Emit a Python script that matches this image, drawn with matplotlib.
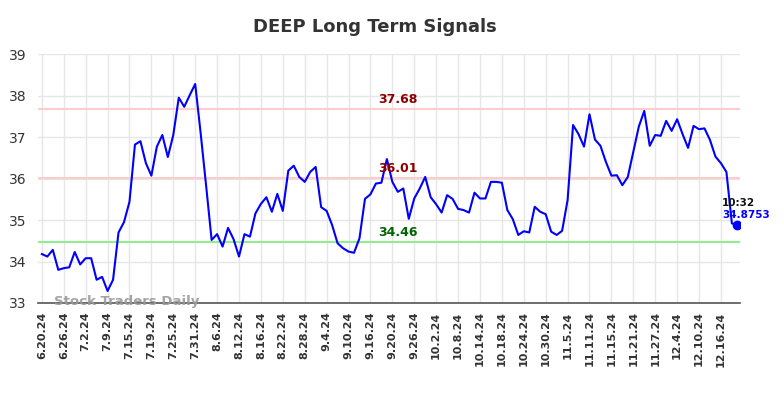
import matplotlib.pyplot as plt
import numpy as np

# daily closes, one per trading day from 6.20.24
prices = [
    34.18, 34.12, 34.28, 33.80, 33.84, 33.86, 34.23, 33.93, 34.08, 34.08,
    33.56, 33.63, 33.29, 33.56, 34.70, 34.95, 35.44, 36.82, 36.90, 36.37,
    36.07, 36.77, 37.05, 36.52, 37.05, 37.95, 37.73, 38.01, 38.28, 37.09,
    35.82, 34.52, 34.66, 34.36, 34.81, 34.54, 34.12, 34.66, 34.60, 35.16,
    35.39, 35.55, 35.20, 35.63, 35.22, 36.19, 36.31, 36.04, 35.92, 36.16,
    36.28, 35.31, 35.22, 34.88, 34.44, 34.32, 34.24, 34.21, 34.56, 35.51,
    35.62, 35.88, 35.90, 36.47, 35.92, 35.68, 35.76, 35.03, 35.52, 35.76,
    36.04, 35.55, 35.38, 35.18, 35.60, 35.51, 35.27, 35.24, 35.18, 35.66,
    35.52, 35.52, 35.92, 35.92, 35.90, 35.24, 35.02, 34.64, 34.73, 34.70,
    35.32, 35.20, 35.14, 34.72, 34.64, 34.74, 35.48, 37.29, 37.07, 36.77,
    37.55, 36.94, 36.79, 36.40, 36.07, 36.08, 35.84, 36.04, 36.65, 37.25,
    37.63, 36.79, 37.05, 37.03, 37.39, 37.15, 37.43, 37.07, 36.74, 37.27,
    37.19, 37.21, 36.93, 36.53, 36.37, 36.16, 34.92, 34.8753,
]
tick_labels = [
    "6.20.24", "6.26.24", "7.2.24", "7.9.24", "7.15.24", "7.19.24", "7.25.24",
    "7.31.24", "8.6.24", "8.12.24", "8.16.24", "8.22.24", "8.28.24", "9.4.24",
    "9.10.24", "9.16.24", "9.20.24", "9.26.24", "10.2.24", "10.8.24",
    "10.14.24", "10.18.24", "10.24.24", "10.30.24", "11.5.24", "11.11.24",
    "11.15.24", "11.21.24", "11.27.24", "12.4.24", "12.10.24", "12.16.24",
]
upper = 37.68
middle = 36.01
lower = 34.46
last_time = "10:32"

x = np.arange(len(prices))

fig = plt.figure(figsize=(7.84, 3.98), dpi=100)
ax = fig.add_axes([0.0485, 0.2387, 0.8955, 0.6253])

ax.plot(x, prices, color="#0000ff", lw=1.5, zorder=3)
ax.plot(x[-1], prices[-1], "o", color="#0000ff", ms=6, zorder=4)

ax.axhline(upper, color="#ffcccc", lw=1.5, zorder=2)
ax.axhline(middle, color="#ffcccc", lw=1.5, zorder=2)
ax.axhline(lower, color="#90ee90", lw=1.5, zorder=2)

xm = 65
ax.text(xm, upper + 0.08, f"{upper:.2f}", color="#8b0000", fontsize=9,
        fontweight="bold", ha="center", va="bottom")
ax.text(xm, middle + 0.08, f"{middle:.2f}", color="#8b0000", fontsize=9,
        fontweight="bold", ha="center", va="bottom")
ax.text(xm, lower + 0.08, f"{lower:.2f}", color="#006400", fontsize=9,
        fontweight="bold", ha="center", va="bottom")

ax.text(x[-1] - 2.8, prices[-1] + 0.42, last_time, color="#111111", fontsize=7.5,
        fontweight="bold", ha="left", va="bottom")
ax.text(x[-1] - 2.8, prices[-1] + 0.12, f"{prices[-1]:.4f}", color="#0000ff",
        fontsize=7.5, fontweight="bold", ha="left", va="bottom")

ax.text(2.2, 33.03, "Stock Traders Daily", color="#999999", fontsize=9.5,
        fontweight="bold", ha="left", va="center", alpha=0.9)

ax.set_xlim(-0.7, 127.5)
ax.set_ylim(33, 39)
ticks = np.arange(0, len(tick_labels) * 4, 4)
ax.set_xticks(ticks)
ax.set_xticklabels(tick_labels, rotation=90, fontsize=8, color="#333333",
                   fontweight="bold")
ax.set_yticks(np.arange(33, 40, 1))
ax.tick_params(axis="y", labelsize=10, colors="#333333", length=0, pad=8)
ax.tick_params(axis="x", length=0, pad=6)
ax.grid(True, color="#e6e6e6", lw=1)
ax.set_axisbelow(True)
for s in ["top", "right", "left"]:
    ax.spines[s].set_visible(False)
ax.spines["bottom"].set_color("#555555")
ax.spines["bottom"].set_linewidth(1.2)

fig.suptitle("DEEP Long Term Signals", fontsize=13, fontweight="bold",
             color="#333333", x=0.478, y=0.955)

plt.savefig("out.png", dpi=100)
plt.close()
